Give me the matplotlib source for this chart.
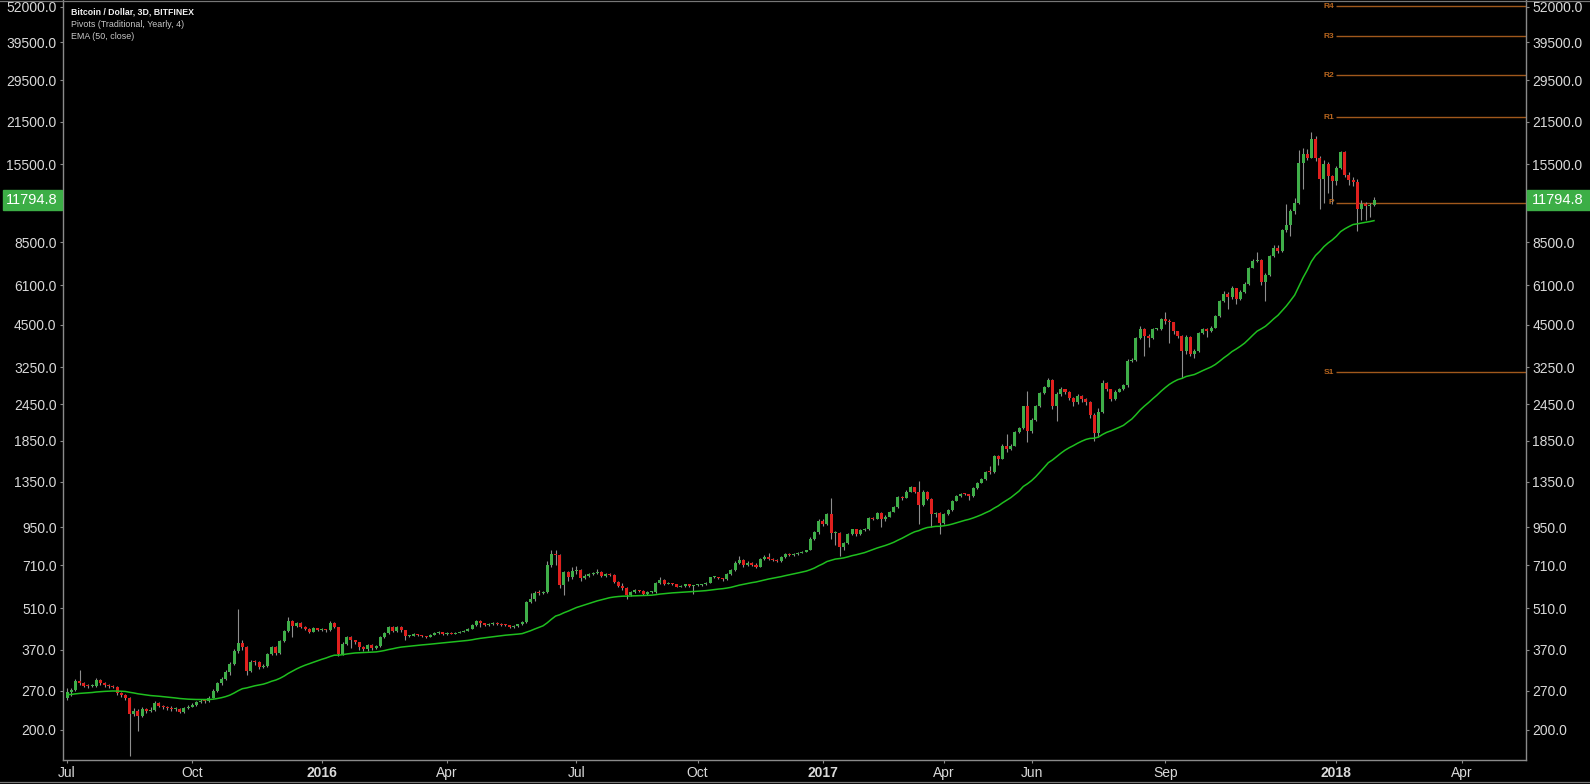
import matplotlib as mpl
import matplotlib.pyplot as plt
import numpy as np
from matplotlib.patches import Rectangle
from matplotlib.lines import Line2D
from matplotlib.ticker import FixedLocator, NullLocator

mpl.rc('font', family=['Liberation Sans', 'DejaVu Sans'])

# 3D candles, Bitfinex BTC/USD, Jul 2015 - Jan 2018
first_open = 256.0
closes = [
    268, 272, 292, 287, 281, 280, 281, 294, 286, 282,
    280, 279, 265, 262, 255, 226, 232, 222, 234, 231,
    233, 245, 241, 238, 236, 234, 235, 229, 236, 239,
    243, 247, 250, 249, 256, 270, 286, 296, 312, 332,
    368, 390, 377, 315, 337, 336, 325, 327, 358, 377,
    360, 395, 428, 463, 446, 455, 442, 434, 426, 436,
    432, 433, 430, 455, 440, 358, 388, 407, 398, 392,
    377, 371, 384, 374, 380, 408, 420, 440, 428, 441,
    430, 412, 413, 417, 414, 411, 409, 416, 421, 424,
    417, 421, 419, 422, 425, 429, 435, 447, 462, 454,
    447, 452, 456, 452, 449, 447, 441, 444, 450, 458,
    535, 545, 575, 572, 578, 709, 776, 766, 608, 673,
    648, 678, 684, 644, 655, 663, 668, 673, 652, 663,
    660, 623, 606, 594, 565, 578, 585, 582, 568, 578,
    579, 618, 635, 615, 617, 613, 602, 606, 612, 604,
    608, 610, 612, 620, 646, 648, 642, 636, 663, 682,
    722, 737, 709, 720, 712, 700, 746, 758, 746, 738,
    732, 756, 776, 766, 775, 782, 788, 796, 869, 914,
    1000, 975, 1052, 910, 910, 815, 843, 905, 935, 900,
    933, 935, 1016, 1013, 1060, 1013, 1030, 1070, 1110, 1200,
    1190, 1250, 1290, 1250, 1127, 1250, 1180, 1052, 1060, 980,
    1052, 1085, 1165, 1210, 1230, 1225, 1205, 1280, 1335, 1377,
    1456, 1450, 1637, 1605, 1779, 1740, 1779, 1970, 2030, 2405,
    1990, 2170, 2417, 2665, 2800, 2940, 2405, 2645, 2740, 2690,
    2560, 2480, 2610, 2550, 2480, 2250, 1960, 2300, 2890, 2746,
    2550, 2680, 2746, 2830, 3420, 3430, 4080, 4370, 4137, 4080,
    4354, 4370, 4700, 4640, 4600, 4290, 4137, 3680, 4100, 3600,
    3680, 4230, 4370, 4290, 4400, 4823, 5400, 5690, 5560, 5990,
    5500, 5800, 6150, 6990, 7350, 7400, 6270, 6590, 7650, 8140,
    7950, 9320, 9680, 10800, 11500, 15640, 16700, 16300, 18830, 16300,
    13840, 15500, 14150, 13600, 15100, 17000, 14300, 13700, 13500, 10940,
    11400, 11250, 11360, 11794.8,
]
highs = [
    276, 275, 296, 316, 290, 284, 285, 299, 296, 289,
    284, 283, 281, 267, 264, 258, 236, 234, 238, 237,
    238, 249, 247, 243, 240, 240, 238, 237, 239, 242,
    245, 249, 253, 253, 259, 273, 290, 300, 318, 336,
    372, 505, 398, 382, 342, 342, 340, 333, 362, 382,
    380, 400, 432, 475, 466, 460, 458, 445, 437, 440,
    438, 437, 435, 462, 458, 442, 392, 412, 410, 400,
    394, 380, 388, 386, 384, 412, 425, 443, 444, 445,
    443, 432, 416, 420, 419, 416, 413, 418, 423, 427,
    425, 423, 423, 424, 427, 431, 437, 450, 467, 464,
    456, 455, 460, 458, 454, 451, 448, 447, 452, 462,
    540, 575, 580, 585, 582, 730, 796, 800, 775, 680,
    680, 700, 705, 690, 665, 668, 672, 690, 678, 668,
    668, 665, 630, 620, 600, 582, 590, 588, 585, 580,
    583, 625, 650, 640, 625, 620, 615, 610, 616, 614,
    610, 614, 615, 624, 650, 652, 650, 645, 668, 690,
    730, 760, 745, 730, 725, 720, 750, 770, 780, 750,
    742, 760, 782, 780, 780, 786, 792, 800, 880, 920,
    1010, 1010, 1060, 1185, 925, 918, 850, 912, 940, 940,
    940, 945, 1025, 1030, 1070, 1065, 1040, 1075, 1120, 1210,
    1210, 1265, 1300, 1295, 1360, 1260, 1255, 1185, 1070, 1065,
    1060, 1090, 1175, 1220, 1235, 1240, 1230, 1290, 1345, 1390,
    1465, 1525, 1650, 1660, 1800, 1940, 1800, 1985, 2050, 2420,
    2700, 2200, 2430, 2680, 2820, 3000, 2960, 2680, 2790, 2760,
    2700, 2580, 2640, 2620, 2560, 2500, 2280, 2380, 2950, 2900,
    2760, 2720, 2780, 2860, 3450, 3500, 4100, 4450, 4400, 4200,
    4380, 4400, 4750, 4980, 4700, 4620, 4300, 4150, 4150, 4120,
    3750, 4260, 4400, 4400, 4450, 4850, 5450, 5850, 5800, 6050,
    6000, 5900, 6250, 7050, 7450, 7900, 7500, 6700, 7700, 8300,
    8300, 9400, 11400, 11000, 11900, 17300, 17500, 17400, 19800, 19200,
    16500, 16000, 15700, 14200, 15300, 17200, 17100, 14600, 14000, 13800,
    11800, 11600, 11500, 12050,
]
lows = [
    252, 260, 270, 283, 278, 276, 277, 279, 283, 279,
    276, 275, 261, 258, 251, 164, 222, 198, 220, 228,
    229, 231, 238, 235, 233, 232, 231, 227, 228, 235,
    238, 241, 245, 246, 247, 255, 268, 283, 294, 305,
    330, 360, 370, 305, 312, 330, 320, 322, 325, 355,
    355, 358, 392, 425, 408, 440, 436, 430, 422, 424,
    428, 429, 426, 428, 436, 352, 355, 385, 375, 388,
    370, 366, 368, 370, 371, 378, 405, 418, 424, 426,
    426, 398, 408, 411, 411, 408, 405, 407, 414, 419,
    414, 415, 417, 418, 420, 423, 427, 433, 445, 440,
    443, 444, 449, 449, 446, 444, 437, 438, 442, 448,
    455, 530, 540, 565, 568, 575, 700, 709, 595, 562,
    630, 640, 665, 628, 640, 650, 660, 665, 648, 648,
    655, 618, 600, 585, 545, 560, 575, 578, 562, 565,
    574, 575, 615, 610, 612, 608, 598, 598, 600, 600,
    570, 604, 605, 610, 618, 642, 638, 630, 632, 660,
    680, 718, 700, 705, 705, 695, 698, 740, 740, 732,
    728, 728, 750, 760, 762, 770, 780, 785, 795, 860,
    905, 960, 970, 865, 830, 760, 800, 838, 895, 890,
    895, 925, 930, 1005, 1010, 950, 1000, 1025, 1065, 1105,
    1175, 1185, 1245, 1240, 975, 1120, 1170, 955, 1030, 900,
    975, 1040, 1080, 1160, 1200, 1215, 1170, 1200, 1275, 1330,
    1370, 1430, 1440, 1530, 1600, 1700, 1720, 1770, 1960, 2020,
    1835, 1960, 2150, 2400, 2640, 2790, 2350, 2150, 2600, 2640,
    2520, 2420, 2450, 2480, 2440, 2200, 1850, 1900, 2280, 2700,
    2500, 2520, 2680, 2720, 2800, 3380, 3400, 4050, 3550, 3800,
    4050, 4320, 4340, 4550, 3930, 4200, 4080, 3000, 3600, 3550,
    3500, 3650, 4200, 4100, 4250, 4380, 4800, 5380, 5100, 5500,
    5300, 5450, 5750, 6100, 6950, 7300, 6100, 5400, 6550, 7600,
    7800, 7900, 9200, 8900, 10600, 11400, 12800, 16000, 16200, 15900,
    11000, 11500, 12400, 11400, 13200, 14900, 14000, 13200, 13100, 9260,
    10100, 10100, 10300, 11250,
]

ema_len = 50
ema_seed = 262.0

pivot_names = ['R4', 'R3', 'R2', 'R1', 'P', 'S1']
pivot_levels = [52159, 41403, 30647, 22264, 11508, 3125]
pivot_start = 304

price_ticks = [200, 270, 370, 510, 710, 950, 1350, 1850, 2450, 3250,
               4500, 6100, 8500, 15500, 21500, 29500, 39500, 52000]
month_pos = [0, 30, 61, 91, 122, 151, 181, 210, 231, 263, 304, 334]
month_labels = ['Jul', 'Oct', '2016', 'Apr', 'Jul', 'Oct', '2017', 'Apr',
                'Jun', 'Sep', '2018', 'Apr']

up_col = '#3fae49'
down_col = '#e0201e'
wick_col = '#8e8e8e'
ema_col = '#1fbf1f'
pivot_col = '#a0581c'
pivot_txt = '#b8661f'
axis_col = '#8a8a8a'
label_col = '#d9d9d9'

c = np.array(closes, dtype=float)
o = np.concatenate([[first_open], c[:-1]])
h = np.maximum(np.array(highs, dtype=float), np.maximum(o, c))
l = np.minimum(np.array(lows, dtype=float), np.minimum(o, c))
idx = np.arange(len(c))

alpha = 2.0 / (ema_len + 1)
ema = np.empty(len(c))
prev = ema_seed
for i, v in enumerate(c):
    prev = prev + alpha * (v - prev)
    ema[i] = prev

W, H = 1590, 784
fig = plt.figure(figsize=(W / 100, H / 100), dpi=100, facecolor='black')
ax = fig.add_axes([63 / W, 24 / H, (1526 - 63) / W, 760 / H], facecolor='black')

# bodies: at least ~1 px tall so doji show as dashes
bot = np.minimum(o, c)
top = np.maximum(o, c)
top = np.maximum(top, bot * 10 ** (1 / 300))
cols = [up_col if cc >= oo else down_col for oo, cc in zip(o, c)]
ax.vlines(idx, l, h, colors=wick_col, linewidth=0.8, zorder=2)
ax.bar(idx, top - bot, bottom=bot, width=0.72, color=cols, linewidth=0, zorder=3)
ax.plot(idx, ema, color=ema_col, lw=1.1, zorder=4)

x_left, x_right = -0.96, 349.4
ax.hlines(pivot_levels, pivot_start, x_right, colors=pivot_col, lw=1.0, zorder=1)
for name, lev in zip(pivot_names, pivot_levels):
    ax.text(pivot_start - 0.6, lev, name, color=pivot_txt, fontsize=6,
            fontweight='bold', ha='right', va='center')

ax.set_yscale('log')
ax.set_xlim(x_left, x_right)
ax.set_ylim(158.6, 54750)
ax.yaxis.set_major_locator(FixedLocator(price_ticks))
ax.yaxis.set_minor_locator(NullLocator())
ax.set_yticklabels([f'{t:.1f}' for t in price_ticks])
ax.set_xticks(month_pos)
ax.set_xticklabels(month_labels)
for t in ax.get_xticklabels():
    if t.get_text().startswith('20'):
        t.set_fontweight('bold')

ax.tick_params(axis='both', colors=axis_col, labelcolor=label_col, labelsize=10,
               length=2.2, width=0.8, direction='out', pad=2.4)
ax.tick_params(axis='y', left=True, right=True, labelleft=True, labelright=True)
for side in ['left', 'right', 'bottom']:
    ax.spines[side].set_color(axis_col)
    ax.spines[side].set_linewidth(1.0)
ax.spines['top'].set_visible(False)

# last price boxes on both price scales
last = c[-1]
yc = ax.transData.transform((0, last))[1] / H
bh = 20 / H
for x0, x1, tx in [(3, 62, 32), (1527, 1590, 1558)]:
    fig.patches.append(Rectangle((x0 / W, yc - bh / 2), (x1 - x0) / W, bh,
                                 transform=fig.transFigure, color='#3cae46', zorder=5))
    fig.text(tx / W, yc, f'{last:.1f}', color='white', fontsize=10.5,
             ha='center', va='center', zorder=6)

# frame lines of the screenshot
fig.lines.append(Line2D([0, 1], [1 - 0.6 / H] * 2, transform=fig.transFigure,
                        color='#777777', lw=0.9))
fig.lines.append(Line2D([0, 1], [1.8 / H] * 2, transform=fig.transFigure,
                        color='#777777', lw=0.9))

fig.text(71 / W, 1 - 12.3 / H, 'Bitcoin / Dollar, 3D, BITFINEX', color='#f2f2f2',
         fontsize=6.3, fontweight='bold', va='center')
fig.text(71 / W, 1 - 24.3 / H, 'Pivots (Traditional, Yearly, 4)', color='#c8c8c8',
         fontsize=6.4, va='center')
fig.text(71 / W, 1 - 36.3 / H, 'EMA (50, close)', color='#c8c8c8',
         fontsize=6.4, va='center')

fig.savefig('out.png', dpi=100, facecolor='black')
